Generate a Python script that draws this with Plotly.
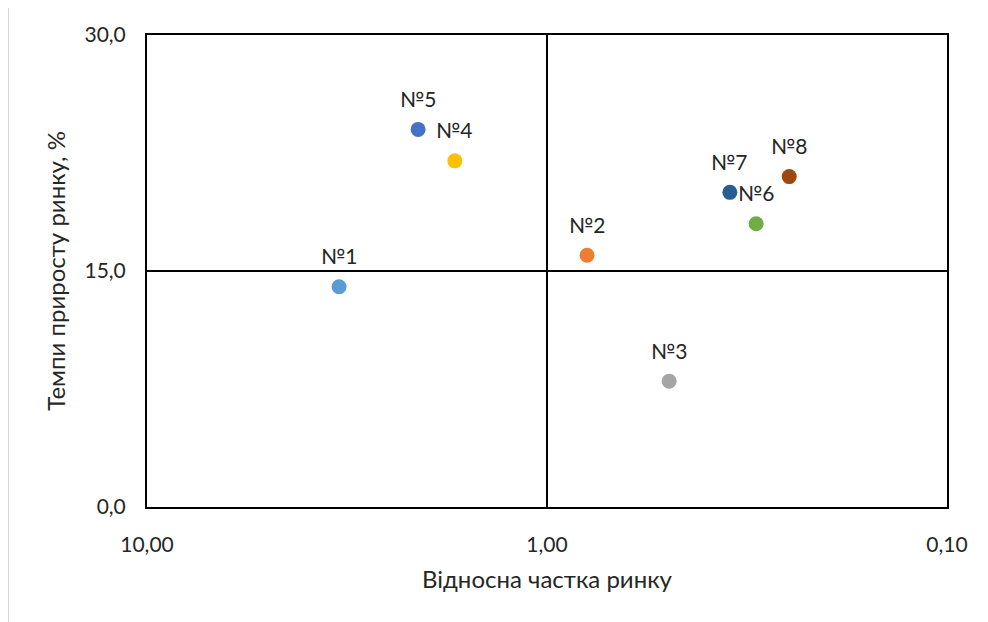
import numpy as np
import plotly.graph_objects as go

labels = ["№1", "№2", "№3", "№4", "№5", "№6", "№7", "№8"]
share = [3.31, 0.794, 0.495, 1.70, 2.10, 0.30, 0.349, 0.248]
growth = [14.0, 16.0, 8.0, 22.0, 24.0, 18.0, 20.0, 21.0]
colors = ["#5B9BD5", "#ED7D31", "#A5A5A5", "#FFC000", "#4472C4", "#70AD47", "#255E91", "#9E480E"]

x_ticks = [10, 1, 0.1]
x_ticktext = ["10,00", "1,00", "0,10"]
y_ticks = [0, 15, 30]
y_ticktext = ["0,0", "15,0", "30,0"]
x_split = 1
y_split = 15

FONT = "Lato, 'Open Sans', sans-serif"
TXT = "#262626"

fig = go.Figure()

# quadrant dividers
fig.add_trace(go.Scatter(x=[x_split, x_split], y=[0, 30], mode="lines",
                         line=dict(color="black", width=2), hoverinfo="skip", showlegend=False))
fig.add_trace(go.Scatter(x=[10, 0.1], y=[y_split, y_split], mode="lines",
                         line=dict(color="black", width=2), hoverinfo="skip", showlegend=False))

for lab, xv, yv, c in zip(labels, share, growth, colors):
    fig.add_trace(go.Scatter(x=[xv], y=[yv], mode="markers", name=lab,
                             marker=dict(size=15, color=c), showlegend=False))
    fig.add_annotation(x=np.log10(xv), y=yv, xref="x", yref="y", text=lab,
                       showarrow=False, yshift=31, font=dict(family=FONT, size=21, color=TXT))

# outer chart border (light grey)
fig.add_shape(type="line", xref="paper", yref="paper", x0=(8 - 147) / 800, x1=(1000 - 147) / 800,
              y0=(507 - 7) / 472, y1=(507 - 7) / 472,
              line=dict(color="#D9D9D9", width=2))
fig.add_shape(type="line", xref="paper", yref="paper", x0=(8 - 147) / 800, x1=(8 - 147) / 800,
              y0=(507 - 7) / 472, y1=(507 - 640) / 472,
              line=dict(color="#D9D9D9", width=2))

fig.update_xaxes(type="log", range=[1, -1], tickvals=x_ticks, ticktext=x_ticktext,
                 showgrid=False, zeroline=False, showline=True, mirror=True,
                 linecolor="black", linewidth=2, ticks="", ticklabelstandoff=18,
                 tickfont=dict(family=FONT, size=21, color=TXT),
                 title=dict(text="Відносна частка ринку", standoff=16,
                            font=dict(family=FONT, size=24, color=TXT)))
fig.update_yaxes(range=[0, 30], tickvals=y_ticks, ticktext=y_ticktext,
                 showgrid=False, zeroline=False, showline=True, mirror=True,
                 linecolor="black", linewidth=2, ticks="", ticklabelstandoff=15,
                 tickfont=dict(family=FONT, size=21, color=TXT),
                 title=dict(text="Темпи приросту ринку, %", standoff=12,
                            font=dict(family=FONT, size=24, color=TXT)))

fig.update_layout(width=988, height=622, margin=dict(l=139, r=49, t=27, b=123),
                  paper_bgcolor="white", plot_bgcolor="white", showlegend=False)

fig.write_html("out.html")
